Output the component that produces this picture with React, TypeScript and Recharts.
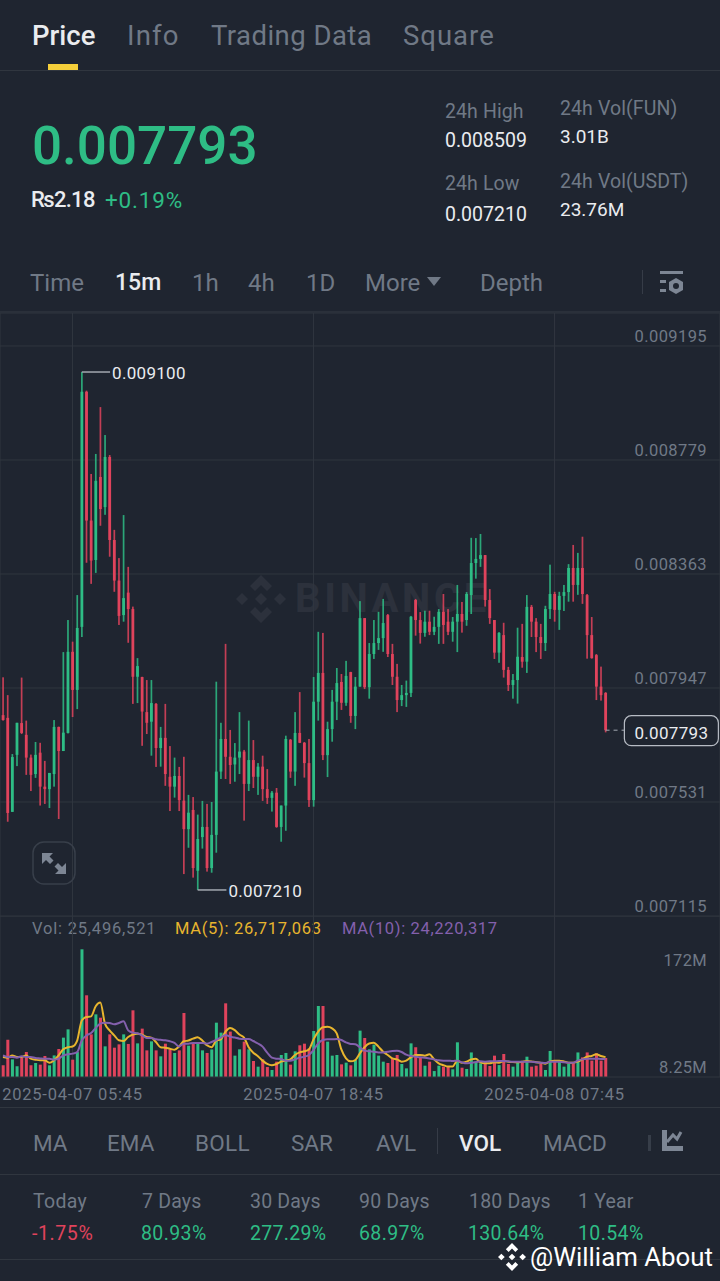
import React from 'react';
import {
  ComposedChart,
  Bar,
  Line,
  Cell,
  XAxis,
  YAxis,
  CartesianGrid,
  ReferenceLine,
  ReferenceDot
} from 'recharts';

// prices are in millionths of USDT, volumes in millions
const opens = [
  7848, 7838, 7495, 7703, 7819, 7776, 7693, 7633, 7711, 7587,
  7578, 7633, 7805, 7717, 7783, 8079, 7940, 8170, 9028, 8558,
  8414, 8717, 8607, 8790, 8487, 8339, 8213, 8295, 8235, 7988,
  7987, 7859, 7824, 7889, 7728, 7765, 7623, 7587, 7626, 7536,
  7432, 7502, 7280, 7403, 7440, 7290, 7411, 7642, 7761, 7696,
  7668, 7693, 7715, 7597, 7684, 7623, 7660, 7578, 7546, 7565,
  7440, 7518, 7758, 7642, 7783, 7747, 7673, 7538, 7897, 8002,
  7702, 7797, 7897, 7969, 7893, 8005, 7845, 7952, 8202, 7950,
  8071, 8111, 8129, 8213, 8071, 7988, 7903, 7921, 7929, 8268,
  8195, 8148, 8189, 8152, 8170, 8225, 8189, 8152, 8189, 8217,
  8195, 8286, 8403, 8418, 8432, 8268, 8195, 8076, 8140, 8013,
  7958, 7976, 8060, 8043, 8243, 8189, 8133, 8111, 8235, 8290,
  8232, 8283, 8297, 8385, 8323, 8385, 8286, 8140, 8067, 7952,
  7929
];
const closes = [
  7830, 7491, 7695, 7820, 7783, 7693, 7630, 7703, 7587, 7578,
  7637, 7805, 7717, 7784, 8079, 7940, 8166, 9028, 8558, 8412,
  8703, 8600, 8790, 8487, 8339, 8210, 8275, 8235, 7988, 8027,
  7861, 7820, 7892, 7728, 7765, 7633, 7587, 7626, 7538, 7432,
  7492, 7290, 7396, 7440, 7290, 7411, 7642, 7761, 7696, 7666,
  7693, 7715, 7597, 7684, 7623, 7660, 7578, 7546, 7565, 7440,
  7518, 7761, 7642, 7783, 7747, 7673, 7538, 7897, 8002, 7702,
  7797, 7897, 7965, 7893, 7991, 7845, 7952, 8202, 7950, 8071,
  8111, 8129, 8184, 8071, 7988, 7903, 7921, 7929, 8207, 8195,
  8148, 8189, 8152, 8170, 8225, 8177, 8152, 8189, 8217, 8189,
  8290, 8403, 8418, 8432, 8268, 8202, 8076, 8148, 8013, 7958,
  7976, 8061, 8043, 8243, 8189, 8133, 8111, 8235, 8290, 8232,
  8283, 8297, 8385, 8323, 8385, 8290, 8140, 8056, 7952, 7921,
  7793
];
const highs = [
  7986, 7921, 7706, 7820, 7985, 7828, 7704, 7750, 7747, 7681,
  7637, 7830, 7806, 8078, 8195, 8116, 8286, 9100, 9032, 8728,
  8801, 8972, 8870, 8797, 8524, 8421, 8578, 8389, 8244, 8056,
  7988, 7976, 7976, 7892, 7805, 7889, 7735, 7693, 7659, 7696,
  7557, 7549, 7485, 7535, 7524, 7531, 7970, 7820, 8108, 7794,
  7746, 7859, 7721, 7828, 7757, 7673, 7700, 7651, 7571, 7582,
  7518, 7773, 7761, 7859, 7932, 7750, 7761, 7987, 8152, 8148,
  7824, 7940, 8020, 7998, 8046, 8006, 7987, 8264, 8202, 8111,
  8195, 8225, 8272, 8217, 8108, 8035, 7958, 7974, 8210, 8272,
  8224, 8229, 8229, 8207, 8235, 8290, 8235, 8206, 8323, 8261,
  8297, 8495, 8494, 8509, 8432, 8308, 8195, 8151, 8185, 8024,
  7998, 8167, 8181, 8286, 8250, 8202, 8181, 8247, 8397, 8298,
  8298, 8323, 8399, 8469, 8440, 8499, 8290, 8206, 8071, 8025,
  7932
];
const lows = [
  7828, 7459, 7495, 7662, 7779, 7630, 7571, 7619, 7518, 7524,
  7509, 7587, 7469, 7717, 7781, 7841, 7870, 8133, 8404, 8327,
  8367, 8539, 8579, 8426, 8298, 8177, 8189, 8112, 7889, 7892,
  7736, 7779, 7700, 7659, 7660, 7590, 7498, 7547, 7498, 7268,
  7364, 7255, 7210, 7361, 7277, 7273, 7346, 7615, 7615, 7597,
  7605, 7633, 7463, 7571, 7582, 7557, 7535, 7524, 7496, 7437,
  7386, 7426, 7619, 7590, 7746, 7620, 7513, 7514, 7828, 7684,
  7622, 7751, 7830, 7867, 7882, 7820, 7797, 7952, 7943, 7908,
  8053, 8086, 8079, 8060, 7958, 7859, 7881, 7878, 7914, 8138,
  8109, 8134, 8140, 8140, 8108, 8108, 8140, 8116, 8078, 8149,
  8174, 8217, 8346, 8389, 8244, 8181, 8053, 8039, 7985, 7936,
  7908, 7890, 8021, 8002, 8133, 8078, 8053, 8082, 8199, 8189,
  8159, 8228, 8262, 8262, 8287, 8254, 8054, 8054, 7903, 7901,
  7785
];
const volumes = [
  15.7, 50, 23.7, 14.3, 26, 33.6, 15.7, 18.8, 16.6, 28.2,
  15.7, 29, 37.6, 52.9, 64, 23.3, 33.6, 171.6, 109.8, 57.3,
  84.2, 79.7, 41.2, 57.3, 39.4, 43.9, 57.3, 44.4, 89.6, 45.2,
  65, 35.8, 47.9, 35.8, 27.8, 44.8, 37.2, 32.3, 35.8, 86,
  42.1, 44.8, 44.8, 35.8, 32.3, 37, 73, 59.6, 99, 61,
  28.7, 37.2, 47.5, 37.2, 21.5, 13.9, 23.7, 13.4, 9.4, 20.6,
  29.6, 32.3, 16.6, 34.5, 42.6, 44.8, 38.5, 61.8, 95.4, 95.4,
  47.5, 28.7, 29.6, 17, 19.3, 15.7, 22.8, 62.3, 52.4, 37.2,
  43.5, 28.7, 20.6, 18.8, 25, 29.6, 17.5, 11.6, 45.2, 40,
  26.4, 15.2, 20.6, 8, 15.2, 13.9, 13.9, 10.3, 46.6, 12.5,
  10.8, 33, 21, 18.4, 20.6, 14.8, 28.7, 16, 30.9, 17.5,
  13.9, 19.7, 21.5, 27.3, 13.9, 15.2, 17.5, 9.4, 35, 22,
  20.6, 13.9, 17.5, 18.4, 33, 26.4, 33, 22, 31.8, 22,
  25.5
];
const ma5 = [
  26.9, 26, 29, 27, 27, 29, 24.6, 23.3, 22.4, 22.4,
  19, 22.4, 29, 37.2, 40, 41, 49, 76, 80.6, 81.5,
  95, 100, 71.7, 62.7, 56, 49.3, 48.4, 53.8, 57, 58,
  57, 53.8, 52.9, 47, 40, 39.4, 38, 36.7, 41, 48,
  49, 51.5, 53.3, 49, 42.6, 40, 48.8, 50.6, 61, 66,
  63, 57, 53, 40, 32.7, 28, 22, 17.5, 15.7, 17.5,
  20.6, 22, 23.7, 29.6, 33, 34.5, 37, 50.6, 61, 66.8,
  67.6, 65.4, 58.7, 37, 25, 21, 22.8, 31.8, 40, 45,
  46, 40.8, 34, 29.6, 25, 23.7, 20.6, 22, 26.4, 29.6,
  29.6, 28.7, 30.5, 23.7, 18.4, 16, 14, 14, 22, 19.3,
  20.6, 23.7, 24.6, 19.7, 18.4, 18.4, 19.7, 19.3, 21.5, 20.6,
  20, 19.7, 20.6, 21.5, 21, 19.7, 19.3, 17.9, 21, 22,
  22, 21, 19.3, 19.3, 20.6, 23.7, 27.3, 28.2, 30.5, 28.2,
  26.7
];
const ma10 = [
  29, 27, 27, 26, 27.8, 27, 27, 25.5, 25, 24.6,
  24.6, 23.3, 24.6, 29, 30.5, 31.4, 33.6, 49, 56, 59,
  66, 71.7, 73, 72.6, 70.8, 72.6, 74.8, 62.7, 59.6, 58.7,
  56, 52.4, 52.4, 50.6, 50, 49.3, 48, 45.7, 41, 44.8,
  44.8, 45.7, 45.7, 45.7, 44.8, 47, 49.7, 53, 56.4, 54,
  53, 51.5, 51, 51, 48.4, 45, 40.8, 32.7, 26, 24.6,
  24.2, 22, 22, 23.7, 26, 27.3, 29.6, 36.3, 45, 49.7,
  50.6, 50.6, 51, 49.7, 46.6, 44.4, 44, 40, 35.4, 34.5,
  34, 33, 33, 34, 35, 35.4, 33.6, 30, 28.2, 27.3,
  26.4, 26, 25, 23.7, 22.4, 22, 22, 21.5, 22, 19.7,
  18.4, 19.3, 20, 21, 20.6, 21, 21, 21.5, 21.5, 21,
  20.6, 20.6, 20.6, 20.6, 20.6, 19.7, 19.3, 18.8, 20.6, 20.6,
  20.6, 19.7, 19.3, 19.3, 22, 23.7, 24.6, 24.6, 24.6, 24.2,
  24.2
];

const priceTicks = [7115, 7531, 7947, 8363, 8779, 9195];
const volTicks = [8.25, 172];
const timeTicks = [15, 67, 119];
const timeLabels: Record<number, string> = {
  15: '2025-04-07 05:45',
  67: '2025-04-07 18:45',
  119: '2025-04-08 07:45'
};

const candles = opens.map((open, i) => ({
  i,
  open,
  close: closes[i],
  high: highs[i],
  low: lows[i],
  vol: volumes[i],
  ma5: ma5[i],
  ma10: ma10[i]
}));

const BG = '#1f2530';
const GRID = '#30363f';
const UP = '#2ebd85';
const DOWN = '#e0435c';
const MUTED = '#707986';
const WHITE = '#eaecef';
const GOLD = '#e8b52e';
const PURPLE = '#8460ad';
const FONT = 'Roboto, "Noto Sans", sans-serif';
const X_DOMAIN: [number, number] = [-0.647, 154.69];

const Txt = ({ x, y, size = 20, color = MUTED, weight = 400, spacing = 0, children }: any) => (
  <div
    style={{
      position: 'absolute',
      left: x,
      top: y - size,
      height: size * 2,
      lineHeight: `${size * 2}px`,
      fontSize: size,
      color,
      fontWeight: weight,
      letterSpacing: spacing,
      whiteSpace: 'nowrap'
    }}
  >
    {children}
  </div>
);

const Rule = ({ y, h = 1, color = GRID }: any) => (
  <div style={{ position: 'absolute', left: 0, top: y, width: 720, height: h, background: color }} />
);

const CandleShape = (props: any) => {
  const { x, y, width, height, payload } = props;
  const color = payload.close >= payload.open ? UP : DOWN;
  const span = payload.high - payload.low || 1;
  const topPrice = Math.max(payload.open, payload.close);
  const bottomPrice = Math.min(payload.open, payload.close);
  const bodyTop = y + ((payload.high - topPrice) / span) * height;
  const bodyBottom = y + ((payload.high - bottomPrice) / span) * height;
  const cx = x + width / 2;
  return (
    <g>
      <rect x={cx - 0.85} y={y} width={1.7} height={height} fill={color} fillOpacity={0.85} />
      <rect x={x} y={bodyTop} width={width} height={Math.max(bodyBottom - bodyTop, 1)} fill={color} />
    </g>
  );
};

const PriceTick = ({ y, payload }: any) => (
  <text x={707} y={y - 4} textAnchor="end" fontSize={16.5} fill={MUTED} fontFamily={FONT} letterSpacing={0.4}>
    {(payload.value / 1e6).toFixed(6)}
  </text>
);

const VolTick = ({ y, payload }: any) => (
  <text
    x={707}
    y={payload.value > 100 ? y + 17 : y + 2}
    textAnchor="end"
    fontSize={16.5}
    fill={MUTED}
    fontFamily={FONT}
    letterSpacing={0.3}
  >
    {payload.value}M
  </text>
);

const TimeTick = ({ x, y, payload }: any) => (
  <text x={x} y={y + 15} textAnchor="middle" fontSize={16.5} fill={MUTED} fontFamily={FONT} letterSpacing={0.75}>
    {timeLabels[payload.value]}
  </text>
);

const LastPriceBox = ({ cx, cy }: any) => (
  <g>
    <rect x={cx - 47} y={cy - 14.5} width={94} height={30} rx={7} fill={BG} stroke="#b7bcc4" strokeWidth={1.2} />
    <text x={cx} y={cy + 8.5} textAnchor="middle" fontSize={17} fill={WHITE} fontFamily={FONT} letterSpacing={0.3}>
      0.007793
    </text>
  </g>
);

const Watermark = () => (
  <div style={{ position: 'absolute', left: 236, top: 575, opacity: 0.055, color: '#fff' }}>
    <svg width={50} height={48} viewBox="0 0 50 48" style={{ position: 'absolute', left: 0, top: 0 }}>
      <polygon points="25,0 36,11 31,16 25,10 19,16 14,11" fill="#fff" />
      <polygon points="25,48 36,37 31,32 25,38 19,32 14,37" fill="#fff" />
      <polygon points="6,18 12,24 6,30 0,24" fill="#fff" />
      <polygon points="44,18 50,24 44,30 38,24" fill="#fff" />
      <polygon points="25,18 31,24 25,30 19,24" fill="#fff" />
    </svg>
    <div style={{ position: 'absolute', left: 59, top: 0, fontSize: 40, fontWeight: 700, letterSpacing: 3.6, lineHeight: '48px' }}>
      BINANCE
    </div>
  </div>
);

const ExpandIcon = () => (
  <svg width={44} height={44} viewBox="0 0 44 44" style={{ position: 'absolute', left: 32, top: 841 }}>
    <rect x={1} y={1} width={42} height={42} rx={11} fill="none" stroke="#383f4a" strokeWidth={1.5} />
    <polygon points="10,12 21,12 17.5,15.5 21.5,19.5 18,23 14,19 10,23" fill="#7d8694" />
    <polygon points="34,33 23,33 26.5,29.5 22.5,25.5 26,22 30,26 34,22" fill="#7d8694" />
  </svg>
);

const App = () => (
  <div
    style={{
      position: 'absolute',
      left: 0,
      top: 0,
      width: 720,
      height: 1281,
      overflow: 'hidden',
      background: BG,
      fontFamily: FONT
    }}
  >
    <Txt x={32} y={35} size={27.5} color={WHITE} weight={500}>Price</Txt>
    <Txt x={127} y={35} size={27.5} spacing={1.2}>Info</Txt>
    <Txt x={211} y={35} size={27.5} spacing={0.45}>Trading Data</Txt>
    <Txt x={403} y={35} size={27.5} spacing={1}>Square</Txt>
    <div style={{ position: 'absolute', left: 48, top: 64, width: 30, height: 6, background: '#f5cf3a' }} />
    <Rule y={70} />

    <Txt x={32} y={146} size={53} color={UP} weight={500}>0.007793</Txt>
    <Txt x={31} y={200} size={22} color={WHITE} weight={500} spacing={-0.7}>₨2.18</Txt>
    <Txt x={105} y={200} size={22.5} color={UP} spacing={0.8}>+0.19%</Txt>

    <Txt x={445} y={111} size={19.5} spacing={0.1}>24h High</Txt>
    <Txt x={445} y={140} size={19.5} color={WHITE}>0.008509</Txt>
    <Txt x={445} y={183} size={19.5} spacing={0.1}>24h Low</Txt>
    <Txt x={445} y={214} size={19.5} color={WHITE}>0.007210</Txt>
    <Txt x={560} y={108} size={19.5} spacing={0.1}>24h Vol(FUN)</Txt>
    <Txt x={560} y={137} size={19} color={WHITE}>3.01B</Txt>
    <Txt x={560} y={181} size={19.5} spacing={0.1}>24h Vol(USDT)</Txt>
    <Txt x={560} y={210} size={19} color={WHITE}>23.76M</Txt>

    <Txt x={30} y={283} size={24}>Time</Txt>
    <Txt x={115} y={283} size={23} color={WHITE} weight={500}>15m</Txt>
    <Txt x={192} y={283} size={24}>1h</Txt>
    <Txt x={248} y={283} size={24}>4h</Txt>
    <Txt x={306} y={283} size={24}>1D</Txt>
    <Txt x={365} y={283} size={24}>More</Txt>
    <div
      style={{
        position: 'absolute',
        left: 427,
        top: 277,
        width: 0,
        height: 0,
        borderLeft: '7px solid transparent',
        borderRight: '7px solid transparent',
        borderTop: '9px solid #707986'
      }}
    />
    <Txt x={480} y={283} size={24}>Depth</Txt>
    <div style={{ position: 'absolute', left: 642, top: 270, width: 1, height: 24, background: '#363c47' }} />
    <svg width={26} height={26} viewBox="0 0 26 26" style={{ position: 'absolute', left: 659, top: 270 }}>
      <rect x={1} y={1} width={23} height={3} fill="#7d8694" />
      <rect x={1} y={10} width={6} height={3} fill="#7d8694" />
      <rect x={1} y={19} width={6} height={3} fill="#7d8694" />
      <polygon points="17,8 24,12 24,20 17,24 10,20 10,12" fill="#7d8694" />
      <circle cx={17} cy={16} r={3} fill={BG} />
    </svg>
    <Rule y={311} h={2} color="#2a303a" />

    <Watermark />

    <div style={{ position: 'absolute', left: 0, top: 313 }}>
      <ComposedChart
        width={720}
        height={604}
        data={candles}
        margin={{ top: 0, right: 0, bottom: 0, left: 0 }}
      >
        <CartesianGrid stroke={GRID} strokeWidth={1} />
        <XAxis
          type="number"
          dataKey="i"
          scale="linear"
          domain={X_DOMAIN}
          allowDataOverflow
          ticks={timeTicks}
          hide
        />
        <YAxis
          orientation="right"
          mirror
          width={80}
          type="number"
          domain={[7111.35, 9315.35]}
          allowDataOverflow
          ticks={priceTicks}
          interval={0}
          tick={PriceTick}
          tickLine={false}
          axisLine={false}
        />
        <Bar
          dataKey={(d: any) => [d.low, d.high]}
          barSize={2.8}
          shape={CandleShape}
          isAnimationActive={false}
        />
        <ReferenceLine
          stroke="#a3a8b0"
          strokeWidth={1.5}
          segment={[{ x: 17, y: 9100 }, { x: 23.1, y: 9100 }]}
        />
        <ReferenceDot
          x={23.1}
          y={9100}
          r={0}
          stroke="none"
          label={{ value: '0.009100', position: 'right', fill: WHITE, fontSize: 17, offset: 2, dy: 1, letterSpacing: 0.3 }}
        />
        <ReferenceLine
          stroke="#a3a8b0"
          strokeWidth={1.5}
          segment={[{ x: 42, y: 7210 }, { x: 48.2, y: 7210 }]}
        />
        <ReferenceDot
          x={48.2}
          y={7210}
          r={0}
          stroke="none"
          label={{ value: '0.007210', position: 'right', fill: WHITE, fontSize: 17, offset: 2, dy: 1, letterSpacing: 0.3 }}
        />
        <ReferenceLine
          stroke="#a3a8b0"
          strokeDasharray="4 4"
          segment={[{ x: 130, y: 7793 }, { x: 134, y: 7793 }]}
        />
        <ReferenceDot x={144.2} y={7793} shape={LastPriceBox} />
      </ComposedChart>
    </div>

    <ExpandIcon />

    <Txt x={32} y={928} size={16.5} spacing={0.8}>Vol: 25,496,521</Txt>
    <Txt x={175} y={928} size={16.5} color={GOLD} spacing={0.7}>MA(5): 26,717,063</Txt>
    <Txt x={342} y={928} size={16.5} color={PURPLE} spacing={0.65}>MA(10): 24,220,317</Txt>

    <div style={{ position: 'absolute', left: 0, top: 917 }}>
      <ComposedChart
        width={720}
        height={190}
        data={candles}
        margin={{ top: 0, right: 0, bottom: 0, left: 0 }}
      >
        <CartesianGrid stroke={GRID} strokeWidth={1} horizontal={false} />
        <XAxis
          type="number"
          dataKey="i"
          scale="linear"
          domain={X_DOMAIN}
          allowDataOverflow
          ticks={timeTicks}
          interval={0}
          height={30}
          tick={TimeTick}
          tickLine={false}
          axisLine={{ stroke: GRID }}
        />
        <YAxis
          orientation="right"
          mirror
          width={80}
          type="number"
          domain={[0, 215]}
          allowDataOverflow
          ticks={volTicks}
          interval={0}
          tick={VolTick}
          tickLine={false}
          axisLine={false}
        />
        <Bar dataKey="vol" barSize={3} isAnimationActive={false}>
          {candles.map((d) => (
            <Cell key={d.i} fill={d.close >= d.open ? UP : DOWN} />
          ))}
        </Bar>
        <Line type="monotone" dataKey="ma5" stroke={GOLD} strokeWidth={2} dot={false} isAnimationActive={false} />
        <Line type="monotone" dataKey="ma10" stroke={PURPLE} strokeWidth={2} dot={false} isAnimationActive={false} />
      </ComposedChart>
    </div>

    <Rule y={1107} />
    <Txt x={33} y={1143} size={22.5}>MA</Txt>
    <Txt x={107} y={1143} size={22.5}>EMA</Txt>
    <Txt x={195} y={1143} size={22.5} spacing={0.3}>BOLL</Txt>
    <Txt x={291} y={1143} size={22.5}>SAR</Txt>
    <Txt x={376} y={1143} size={22.5}>AVL</Txt>
    <div style={{ position: 'absolute', left: 437, top: 1128, width: 1, height: 26, background: '#363c47' }} />
    <Txt x={459} y={1143} size={22.5} color={WHITE} weight={500}>VOL</Txt>
    <Txt x={543} y={1143} size={22.5}>MACD</Txt>
    <div style={{ position: 'absolute', left: 648, top: 1135, width: 3, height: 16, background: MUTED, opacity: 0.3 }} />
    <svg width={24} height={24} viewBox="0 0 24 24" style={{ position: 'absolute', left: 660, top: 1129 }}>
      <path d="M2 1 V22 H23 V17 H7 V1 Z" fill="#7d8694" />
      <path d="M7 13 L13 6 L17 10 L21 3" fill="none" stroke="#7d8694" strokeWidth={3} />
    </svg>
    <Rule y={1174} />

    <Txt x={33} y={1201} size={19.5} spacing={0.3}>Today</Txt>
    <Txt x={142} y={1201} size={19.5} spacing={0.2}>7 Days</Txt>
    <Txt x={250} y={1201} size={19.5} spacing={0.2}>30 Days</Txt>
    <Txt x={359} y={1201} size={19.5} spacing={0.2}>90 Days</Txt>
    <Txt x={469} y={1201} size={19.5} spacing={0.2}>180 Days</Txt>
    <Txt x={578} y={1201} size={19.5} spacing={0.2}>1 Year</Txt>
    <Txt x={32} y={1233} size={19.5} color={DOWN} spacing={0.6}>-1.75%</Txt>
    <Txt x={141} y={1233} size={19.5} color={UP} spacing={0.4}>80.93%</Txt>
    <Txt x={250} y={1233} size={19.5} color={UP} spacing={0.3}>277.29%</Txt>
    <Txt x={359} y={1233} size={19.5} color={UP} spacing={0.4}>68.97%</Txt>
    <Txt x={468} y={1233} size={19.5} color={UP} spacing={0.3}>130.64%</Txt>
    <Txt x={578} y={1233} size={19.5} color={UP} spacing={0.4}>10.54%</Txt>
    <Rule y={1259} />

    <svg width={28} height={28} viewBox="0 0 50 50" style={{ position: 'absolute', left: 498, top: 1243 }}>
      <polygon points="25,0 36,11 31,16 25,10 19,16 14,11" fill="#fff" />
      <polygon points="25,50 36,39 31,34 25,40 19,34 14,39" fill="#fff" />
      <polygon points="6,19 12,25 6,31 0,25" fill="#fff" />
      <polygon points="44,19 50,25 44,31 38,25" fill="#fff" />
      <polygon points="25,19 31,25 25,31 19,25" fill="#fff" />
    </svg>
    <Txt x={530} y={1258} size={25.8} color="#ffffff">@William About</Txt>
  </div>
);

export default App;
